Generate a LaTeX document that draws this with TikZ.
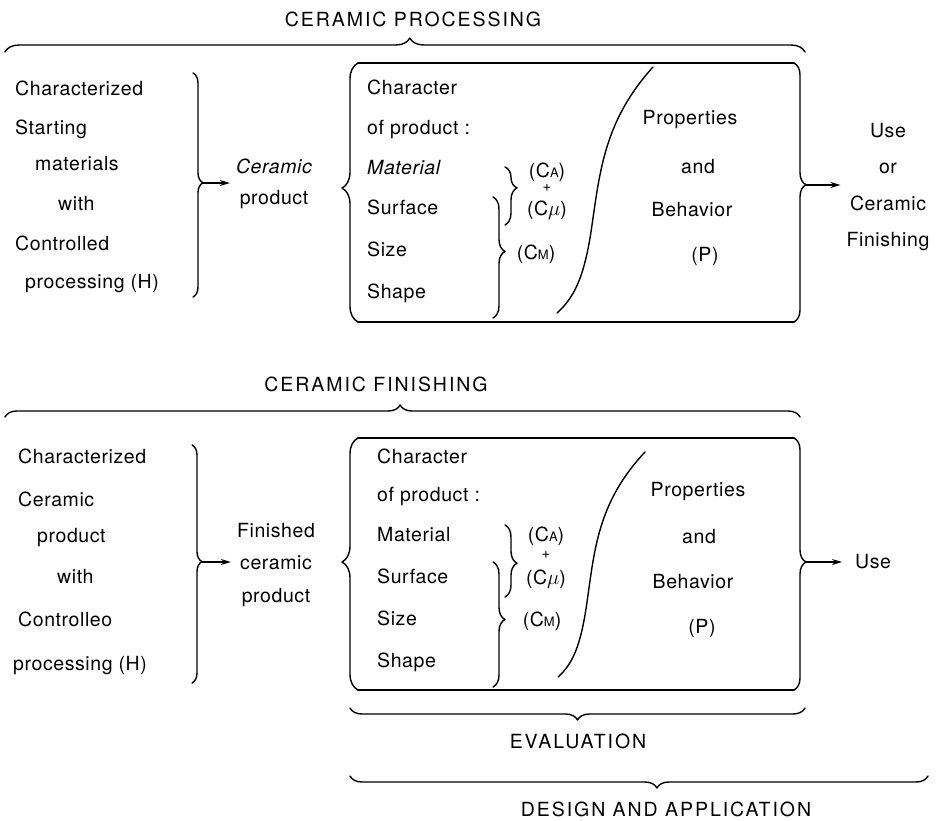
\documentclass[tikz,border=0pt]{standalone}
\usepackage{fontspec}
\setmainfont{TeX Gyre Heros}[LetterSpace=3]
\usetikzlibrary{decorations.pathreplacing,arrows.meta}

% C with a small letter index, as in (C_A), (C_M)
\newcommand{\csub}[1]{(C{\fontsize{13}{13}\selectfont #1})}

\tikzset{
  base/.style={inner sep=0pt, font=\fontsize{19.5}{19.5}\selectfont},
  word/.style={base, anchor=west, text height=13.5pt, text depth=0pt},
  mid/.style={base, anchor=center, text height=13.5pt, text depth=0pt},
  plus/.style={inner sep=0pt, text height=6pt, text depth=0pt,
    font=\fontsize{15}{15}\selectfont},
  caps/.style={mid, font=\fontsize{19.5}{19.5}\selectfont\addfontfeature{LetterSpace=10}},
  stack/.style 2 args={inner ysep=0pt, inner xsep=6pt, align=center,
    font=\fontsize{19.5}{#2}\selectfont, anchor=#1},
  ln/.style={line width=1.4pt, line cap=round, line join=round},
  brc/.style 2 args={ln, decorate, decoration={brace, amplitude=#1, aspect=#2}},
  arr/.style={line width=1.4pt, -{Stealth[length=10pt,width=6pt]}},
}

\begin{document}
\begin{tikzpicture}[x=1pt,y=-1pt]
\useasboundingbox (0,0) rectangle (943,821);

% ---------------- Ceramic processing ----------------
\node[caps] (t1) at (413,20) {CERAMIC PROCESSING};
\draw[brc={14pt}{0.506}] (5,52) -- (805,52);

% starting materials
\node[word] (s1a) at (15,89)  {Characterized};
\node[word] (s1b) at (15,128) {Starting};
\node[word] (s1c) at (35,164) {materials};
\node[word] (s1d) at (58,204) {with};
\node[word] (s1e) at (15,244) {Controlled};
\node[word] (s1f) at (25,282) {processing (H)};
\draw[brc={10pt}{0.49}] (193,73) -- (193,297);
\coordinate (tip1) at (203,183);
\node[stack={center}{31pt}] (prod1) at (274,184) {{\itshape Ceramic}\\product};
\draw[arr] (tip1) -- (tip1 -| prod1.west);

% product box
\draw[brc={16pt}{0.517}] (358,322) -- (358,63);
\draw[brc={12pt}{0.47}] (794,63) -- (794,322);
\draw[ln] (358,63) -- (794,63);
\draw[ln] (358,322) -- (794,322);

\node[word] (c1a) at (367,88)  {Character};
\node[word] (c1b) at (367,128) {of product :};
\node[word] (c1c) at (367,168) {\itshape Material};
\node[word] (c1d) at (367,208) {Surface};
\node[word] (c1e) at (367,250) {Size};
\node[word] (c1f) at (367,292) {Shape};

\draw[brc={12pt}{0.36}] (505,167) -- (505,225);
\draw[brc={12pt}{0.45}] (493,197) -- (493,318);
\node[mid]  (ca1) at (547,171) {\csub{A}};
\node[plus] (pl1) at (547,189) {+};
\node[mid]  (cu1) at (547,209) {(C$\mu$)};
\node[mid]  (cm1) at (536,253) {\csub{M}};

\draw[ln] (653,67) .. controls (605,120) and (600,170) .. (592,225)
                   .. controls (585,275) and (575,297) .. (557,313);

\node[mid] (p1a) at (690,118) {Properties};
\node[mid] (p1b) at (698,167) {and};
\node[mid] (p1c) at (692,210) {Behavior};
\node[mid] (p1d) at (705,255) {(P)};

\coordinate (tip2) at (806,185);
\node[stack={center}{36.5pt}] (use1) at (888,187) {Use\\or\\Ceramic\\Finishing};
\draw[arr] (tip2) -- (tip2 -| use1.west);

% ---------------- Ceramic finishing ----------------
\node[caps] (t2) at (376,385) {CERAMIC FINISHING};
\draw[brc={12pt}{0.497}] (5,417) -- (800,417);

\node[word] (s2a) at (18,457) {Characterized};
\node[word] (s2b) at (18,500) {Ceramic};
\node[word] (s2c) at (37,536) {product};
\node[word] (s2d) at (57,577) {with};
\node[word] (s2e) at (18,620) {Controlleo};
\node[word] (s2f) at (13,664) {processing (H)};
\draw[brc={10pt}{0.49}] (192,445) -- (192,683);
\coordinate (tip3) at (202,562);
\node[stack={center}{32.5pt}] (prod2) at (276,565) {Finished\\ceramic\\product};
\draw[arr] (tip3) -- (tip3 -| prod2.west);

% finished product box
\draw[brc={16pt}{0.508}] (358,690) -- (358,438);
\draw[brc={12pt}{0.492}] (794,438) -- (794,690);
\draw[ln] (358,438) -- (794,438);
\draw[ln] (358,690) -- (794,690);

\node[word] (c2a) at (377,457) {Character};
\node[word] (c2b) at (377,495) {of product :};
\node[word] (c2c) at (377,535) {Material};
\node[word] (c2d) at (377,577) {Surface};
\node[word] (c2e) at (377,619) {Size};
\node[word] (c2f) at (377,661) {Shape};

\draw[brc={12pt}{0.53}] (505,525) -- (505,597);
\draw[brc={12pt}{0.46}] (493,562) -- (493,687);
\node[mid]  (ca2) at (546,535) {\csub{A}};
\node[plus] (pl2) at (546,555) {+};
\node[mid]  (cu2) at (546,578) {(C$\mu$)};
\node[mid]  (cm2) at (542,620) {\csub{M}};

\draw[ln] (645,452) .. controls (600,500) and (595,545) .. (588,595)
                   .. controls (582,640) and (575,662) .. (558,677);

\node[mid] (p2a) at (698,490) {Properties};
\node[mid] (p2b) at (699,537) {and};
\node[mid] (p2c) at (693,582) {Behavior};
\node[mid] (p2d) at (702,627) {(P)};

\coordinate (tip4) at (806,562);
\node[word] (use2) at (855,562) {Use};
\draw[arr, shorten >=13pt] (tip4) -- (use2.west);

% ---------------- evaluation, design and application ----------------
\draw[brc={12pt}{0.5}] (805,708) -- (350,708);
\node[caps] (ev) at (578,742) {EVALUATION};
\draw[brc={12pt}{0.469}] (928,776) -- (350,776);
\node[caps] (da) at (666,810) {DESIGN AND APPLICATION};
\end{tikzpicture}
\end{document}
